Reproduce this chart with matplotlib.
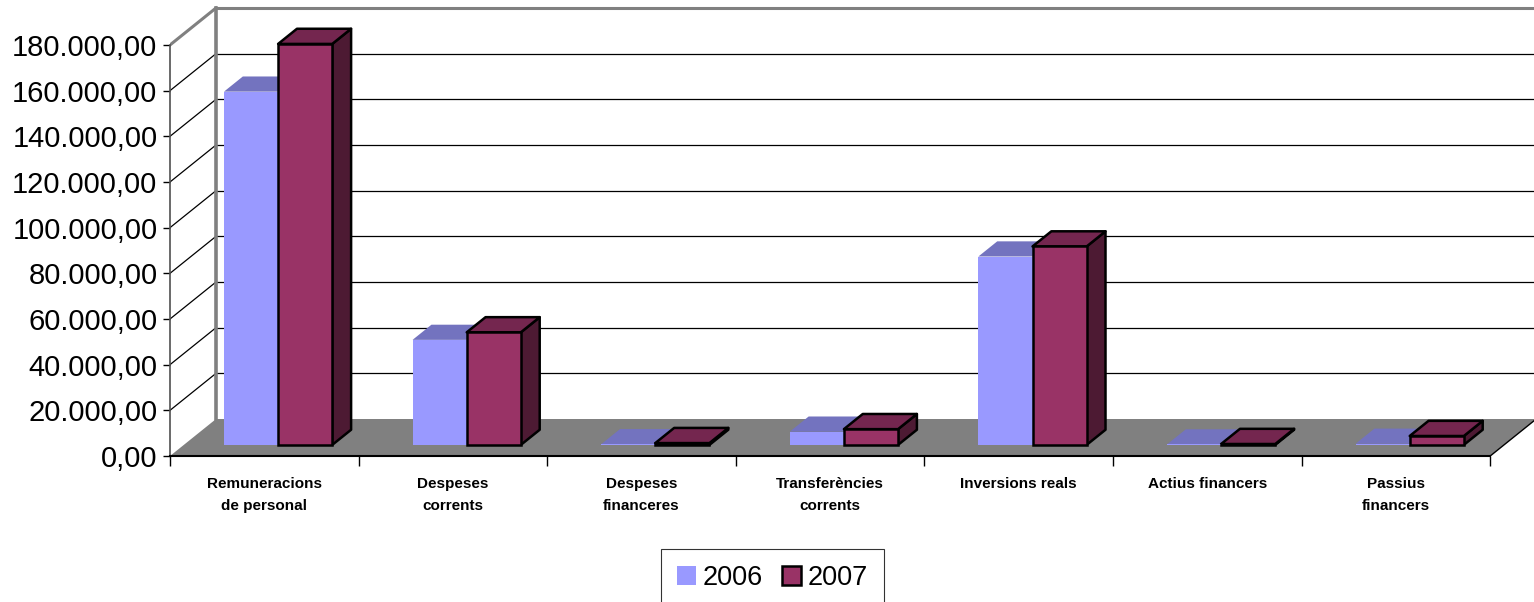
import numpy as np
import matplotlib
matplotlib.use("Agg")
import matplotlib.pyplot as plt
from matplotlib.ticker import FuncFormatter, FixedLocator

plt.rcParams['font.family'] = ['Liberation Sans', 'DejaVu Sans']

# data
categories = ["Remuneracions\nde personal", "Despeses\ncorrents", "Despeses\nfinanceres",
              "Transferències\ncorrents", "Inversions reals", "Actius financers",
              "Passius\nfinancers"]
years = ["2006", "2007"]
values_2006 = [154700, 46000, 300, 5800, 82500, 200, 500]
values_2007 = [175600, 49300, 800, 6900, 86900, 400, 3900]
y_ticks = np.arange(0, 180001, 20000)

# colours: front, top, side
colors_2006 = ("#9999FF", "#7373BF", "#5C5C99")
colors_2007 = ("#993366", "#74264F", "#4D1A33")

# oblique depth of the plot box (in data units)
DX = 0.244
DY = 16200
YMAX = 180000
F0, F1 = 0.30, 0.71      # bar front/back depth fraction
BW = 0.287               # bar width in category units


def fmt(v, pos=None):
    s = f"{v:,.2f}"
    return s.replace(",", "X").replace(".", ",").replace("X", ".")


def draw_bar(ax, x0, h, cols, edge):
    x1 = x0 + BW
    b = F0 * DY
    d = F1 - F0
    ex, ey = d * DX, d * DY
    ec = "black" if edge else "none"
    lw = 1.8 if edge else 0
    side = [(x1, b), (x1 + ex, b + ey), (x1 + ex, b + h + ey), (x1, b + h)]
    top = [(x0, b + h), (x1, b + h), (x1 + ex, b + h + ey), (x0 + ex, b + h + ey)]
    ax.fill(*zip(*side), facecolor=cols[2], edgecolor=ec, linewidth=lw, zorder=4, joinstyle="round")
    ax.fill(*zip(*top), facecolor=cols[1], edgecolor=ec, linewidth=lw, zorder=4, joinstyle="round")
    ax.bar(x0, h, width=BW, bottom=b, align="edge", color=cols[0], edgecolor=ec,
           linewidth=lw, zorder=5)


fig = plt.figure(figsize=(15.34, 6.02), dpi=100)
ax = fig.add_axes([170 / 1534, 146 / 602, 1364 / 1534, 456 / 602])
n = len(categories)
ax.set_xlim(0, 1364 / 188.6)
ax.set_ylim(0, 456 / 45.67 * 20000)
ax.patch.set_visible(False)

# walls
wall_col = "#808080"
back = [(DX, DY), (n + DX + 1, DY), (n + DX + 1, YMAX + DY), (DX, YMAX + DY)]
ax.fill(*zip(*back), facecolor="white", edgecolor="none", zorder=0)
left = [(0, 0), (DX, DY), (DX, YMAX + DY), (0, YMAX)]
ax.fill(*zip(*left), facecolor="white", edgecolor="none", zorder=0)
for v in y_ticks[1:-1]:
    ax.plot([DX, n + DX + 1], [v + DY, v + DY], color="black", lw=0.9, zorder=1)
    ax.plot([0, DX], [v, v + DY], color="black", lw=0.9, zorder=1)
ax.plot([DX, n + DX + 1], [YMAX + DY, YMAX + DY], color=wall_col, lw=2.2, zorder=2)
ax.plot([0, DX], [YMAX, YMAX + DY], color=wall_col, lw=2.2, zorder=2)
ax.plot([DX, DX], [DY, YMAX + DY], color=wall_col, lw=2.6, zorder=2)

# floor
floor = [(0, 0), (n, 0), (n + DX, DY), (DX, DY)]
ax.fill(*zip(*floor), facecolor="#808080", edgecolor="none", zorder=2)
ax.plot([n, n + DX], [0, DY], color="black", lw=1.0, zorder=3)

# bars
for i in range(n):
    cx = i + 0.5 + F0 * DX
    draw_bar(ax, cx - BW, values_2006[i], colors_2006, False)
    draw_bar(ax, cx, values_2007[i], colors_2007, True)

# axes
for s in ["top", "right"]:
    ax.spines[s].set_visible(False)
ax.spines["left"].set_bounds(0, YMAX)
ax.spines["left"].set_color("#505050")
ax.spines["left"].set_linewidth(1.2)
ax.spines["bottom"].set_bounds(0, n)
ax.spines["bottom"].set_linewidth(1.5)
ax.spines["bottom"].set_zorder(6)

ax.set_yticks(y_ticks)
ax.yaxis.set_major_formatter(FuncFormatter(fmt))
ax.tick_params(axis="y", direction="out", length=5, width=1, pad=4, labelsize=21)

ax.xaxis.set_major_locator(FixedLocator(np.arange(n + 1)))
ax.xaxis.set_major_formatter(FuncFormatter(lambda v, p: ""))
ax.set_xticks(np.arange(n) + 0.5, minor=True)
ax.set_xticklabels(categories, minor=True, fontsize=11, fontweight="bold",
                   linespacing=1.75)
ax.tick_params(axis="x", which="major", direction="out", length=7, width=1)
ax.tick_params(axis="x", which="minor", length=0, pad=15)

# legend
handles = [plt.Rectangle((0, 0), 1, 1, facecolor=colors_2006[0], edgecolor="none"),
           plt.Rectangle((0, 0), 1, 1, facecolor=colors_2007[0], edgecolor="black", linewidth=1.8)]
leg = fig.legend(handles, years, loc="upper left", bbox_to_anchor=(661 / 1534, 1 - 549 / 602),
                 ncol=2, fontsize=19.5, frameon=True, fancybox=False, borderpad=0.6,
                 handlelength=0.7, handleheight=0.7, handletextpad=0.25, columnspacing=0.7,
                 borderaxespad=0)
leg.get_frame().set_edgecolor("black")
leg.get_frame().set_linewidth(0.8)

fig.savefig("out.png", dpi=100)
